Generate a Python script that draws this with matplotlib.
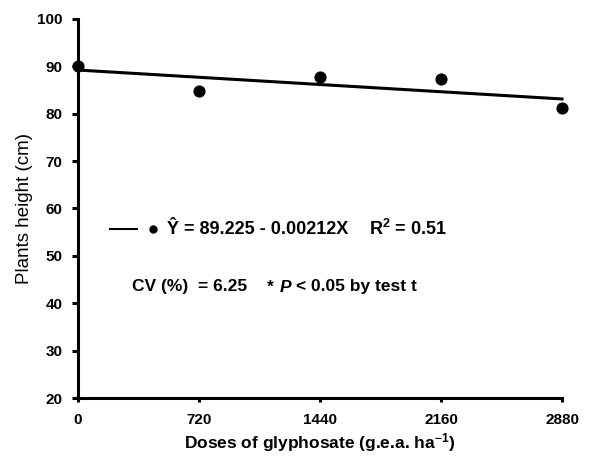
import matplotlib
matplotlib.use("Agg")
import matplotlib.pyplot as plt
import numpy as np

plt.rcParams['font.family'] = ['Liberation Sans', 'DejaVu Sans']
plt.rcParams['mathtext.fontset'] = 'custom'
plt.rcParams['mathtext.rm'] = 'Liberation Sans'
plt.rcParams['mathtext.bf'] = 'Liberation Sans:bold'
plt.rcParams['mathtext.it'] = 'Liberation Sans:italic'

doses = [0, 720, 1440, 2160, 2880]
heights = [90.1, 84.7, 87.8, 87.3, 81.2]
intercept = 89.225
slope = -0.00212
xticks = [0, 720, 1440, 2160, 2880]
yticks = [20, 30, 40, 50, 60, 70, 80, 90, 100]

W, H = 609, 457
fig = plt.figure(figsize=(W / 100, H / 100), dpi=100)
ax = fig.add_axes([78 / W, 1 - 398 / H, 484 / W, 379 / H])

xs = np.array([0, 2880])
ax.plot(xs, intercept + slope * xs, color='black', lw=2.2, clip_on=False, zorder=2)
ax.scatter(doses, heights, s=60, color='black', zorder=3, clip_on=False)

ax.set_xlim(0, 2880)
ax.set_ylim(20, 100)
ax.set_xticks(xticks)
ax.set_yticks(yticks)
for s in ['top', 'right']:
    ax.spines[s].set_visible(False)
for s in ['left', 'bottom']:
    ax.spines[s].set_linewidth(2.2)
ax.tick_params(axis='both', width=2.2, length=4, labelsize=11)
ax.tick_params(axis='y', pad=7)
ax.tick_params(axis='x', length=3, pad=8)
for lab in ax.get_xticklabels() + ax.get_yticklabels():
    lab.set_fontweight('bold')

ax.set_xlabel('Doses of glyphosate (g.e.a. ha$^{\\mathbf{-1}}$)', fontsize=12.5,
              fontweight='bold', labelpad=3)
ax.set_ylabel('Plants height (cm)', fontsize=13.5, labelpad=3)

def fx(px):
    return px / W

def fy(py):
    return 1 - py / H

tf = fig.transFigure
fig.add_artist(plt.Line2D([fx(110), fx(137)], [fy(229), fy(229)], transform=tf,
                          color='black', lw=1.5))
fig.add_artist(plt.Line2D([fx(153)], [fy(229)], transform=tf, marker='o',
                          color='black', ms=5, lw=0))
kw = dict(transform=tf, fontweight='bold', va='center', ha='left')
fig.text(fx(167), fy(229), 'Ŷ = 89.225 - 0.00212X', fontsize=13, **kw)
fig.text(fx(369), fy(229), 'R$^{\\mathbf{2}}$ = 0.51', fontsize=13, **kw)
fig.text(fx(132), fy(287), 'CV (%)  = 6.25', fontsize=12.5, **kw)
fig.text(fx(267), fy(287), '*', fontsize=12.5, **kw)
fig.text(fx(280), fy(287), 'P', style='italic', fontsize=12.5, **kw)
fig.text(fx(296), fy(287), '< 0.05 by test t', fontsize=12.5, **kw)

fig.savefig('out.png', dpi=100)
